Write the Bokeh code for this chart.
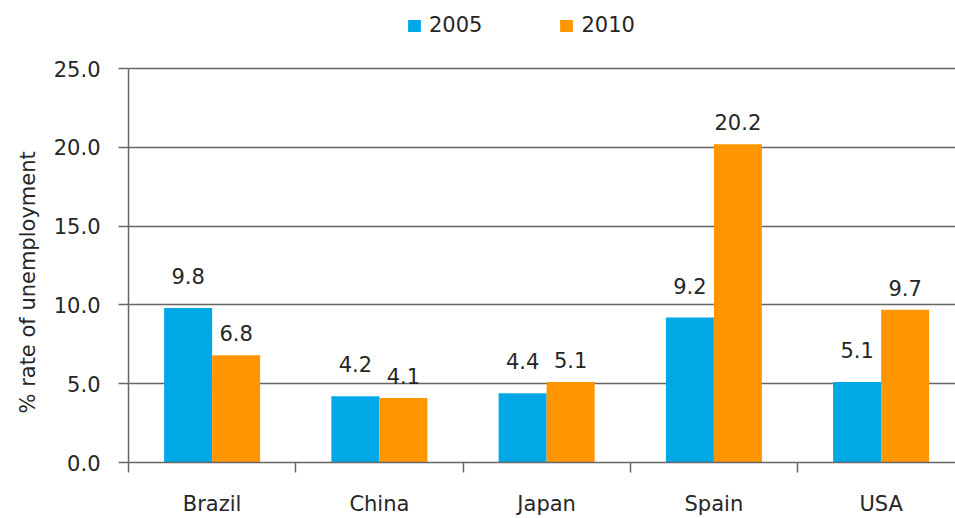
from bokeh.plotting import figure
from bokeh.models import ColumnDataSource, Range1d, FixedTicker, PrintfTickFormatter, Legend, LegendItem, Title
from bokeh.core.properties import value
from bokeh.embed import file_html
from bokeh.resources import INLINE

# ---- data ----
categories = ["Brazil", "China", "Japan", "Spain", "USA"]
rate_2005 = [9.8, 4.2, 4.4, 9.2, 5.1]
rate_2010 = [6.8, 4.1, 5.1, 20.2, 9.7]
series_names = ["2005", "2010"]
y_ticks = [0, 5, 10, 15, 20, 25]
y_label = "% rate of unemployment"

# ---- styling / layout ----
FONT = "DejaVu Sans"
FS = "21px"
TXT = "#262626"
BLUE = "#00A8E6"
ORANGE = "#FF9600"
LINE = "#666666"
WIDTH, HEIGHT = 955, 518
LEFT, BOTTOM = 128, 56
PX_PER_CAT = 167.25
PX_PER_UNIT = 15.76
BAR_W = 0.287

frame_w = WIDTH - LEFT
frame_h = HEIGHT - BOTTOM
y_top = y_ticks[-1]

centers = [i + 0.5 for i in range(len(categories))]
src = ColumnDataSource(dict(
    x05=[c - BAR_W / 2 for c in centers],
    x10=[c + BAR_W / 2 for c in centers],
    r05=rate_2005,
    r10=rate_2010,
    l05=[f"{v:.1f}" for v in rate_2005],
    l10=[f"{v:.1f}" for v in rate_2010],
))

p = figure(width=WIDTH, height=HEIGHT, output_backend="svg", toolbar_location=None,
           x_range=Range1d(0, frame_w / PX_PER_CAT),
           y_range=Range1d(0, frame_h / PX_PER_UNIT),
           min_border_left=LEFT, min_border_right=0, min_border_top=0,
           min_border_bottom=BOTTOM)
p.outline_line_color = None
p.background_fill_color = "white"
p.border_fill_color = "white"

r1 = p.vbar(x="x05", top="r05", width=BAR_W, source=src, fill_color=BLUE, line_color=None)
r2 = p.vbar(x="x10", top="r10", width=BAR_W, source=src, fill_color=ORANGE, line_color=None)

p.text(x="x05", y="r05", text="l05", source=src, text_font=value(FONT), text_font_size=FS,
       text_color=TXT, text_align="center", text_baseline="middle", y_offset=-32)
p.text(x="x10", y="r10", text="l10", source=src, text_font=value(FONT), text_font_size=FS,
       text_color=TXT, text_align="center", text_baseline="middle", y_offset=-22)

# y axis
ya = p.yaxis[0]
ya.ticker = FixedTicker(ticks=y_ticks, minor_ticks=[])
ya.formatter = PrintfTickFormatter(format="%.1f")
ya.bounds = (0, y_top)
ya.axis_line_color = LINE
ya.axis_line_width = 1.5
ya.major_tick_line_color = LINE
ya.major_tick_line_width = 1.5
ya.major_tick_out = 10
ya.major_tick_in = 0
ya.major_label_standoff = 18
ya.major_label_text_font = FONT
ya.major_label_text_font_size = FS
ya.major_label_text_color = TXT

# y axis title, centred on the 0-25 span rather than the whole frame
ytitle = Title(text=y_label, align="left", offset=49, standoff=21,
               text_font=FONT, text_font_size=FS, text_font_style="normal", text_color=TXT)
p.add_layout(ytitle, "left")

# x axis
xa = p.xaxis[0]
xa.ticker = FixedTicker(ticks=centers, minor_ticks=list(range(len(categories) + 1)))
xa.major_label_overrides = {c: name for c, name in zip(centers, categories)}
xa.axis_line_color = LINE
xa.axis_line_width = 1.5
xa.major_tick_line_color = None
xa.major_tick_out = 0
xa.major_tick_in = 0
xa.minor_tick_line_color = LINE
xa.minor_tick_line_width = 1.5
xa.minor_tick_out = 10
xa.minor_tick_in = 0
xa.major_label_standoff = 19
xa.major_label_text_font = FONT
xa.major_label_text_font_size = FS
xa.major_label_text_color = TXT

p.xgrid.visible = False
p.ygrid.grid_line_color = LINE
p.ygrid.grid_line_width = 1.5

legend = Legend(items=[LegendItem(label=series_names[0], renderers=[r1]),
                       LegendItem(label=series_names[1], renderers=[r2])],
                orientation="horizontal", location=(278, frame_h - 37),
                glyph_width=16, glyph_height=15, label_standoff=7, spacing=76,
                padding=0, margin=0, background_fill_alpha=0, border_line_color=None,
                label_text_font=FONT, label_text_font_size=FS, label_text_color=TXT)
p.add_layout(legend)

open("out.html", "w").write(file_html(p, INLINE))
